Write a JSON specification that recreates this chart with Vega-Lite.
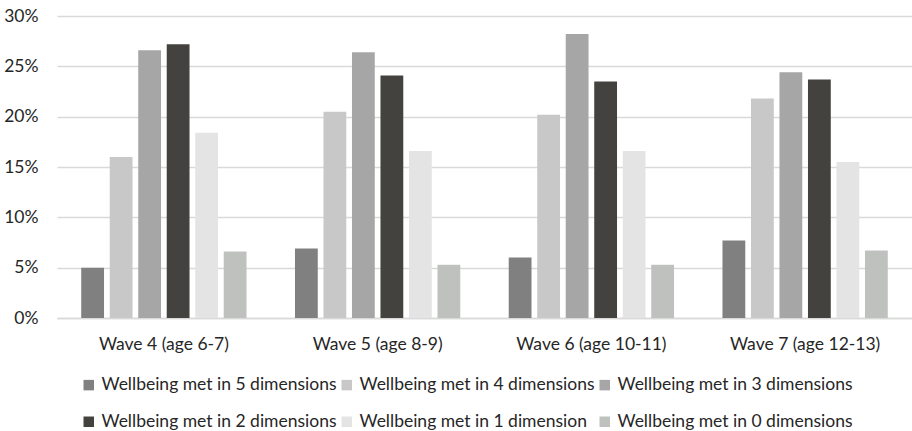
{
  "$schema": "https://vega.github.io/schema/vega-lite/v6.json",
  "autosize": {"type": "none"},
  "padding": {"left": 57, "top": 16, "right": 0, "bottom": 113},
  "width": 855,
  "height": 302,
  "background": "#ffffff",
  "config": {
    "font": "Lato",
    "view": {"stroke": null},
    "axis": {"labelFont": "Lato", "labelFontSize": 17.5, "labelColor": "#262626"},
    "legend": {"labelFont": "Lato", "labelFontSize": 17.5, "labelColor": "#262626"}
  },
  "data": {
    "values": [
      {"wave": "Wave 4 (age 6-7)", "group": "Wellbeing met in 5 dimensions", "pct": 5.0},
      {"wave": "Wave 4 (age 6-7)", "group": "Wellbeing met in 4 dimensions", "pct": 16.0},
      {"wave": "Wave 4 (age 6-7)", "group": "Wellbeing met in 3 dimensions", "pct": 26.6},
      {"wave": "Wave 4 (age 6-7)", "group": "Wellbeing met in 2 dimensions", "pct": 27.2},
      {"wave": "Wave 4 (age 6-7)", "group": "Wellbeing met in 1 dimension", "pct": 18.4},
      {"wave": "Wave 4 (age 6-7)", "group": "Wellbeing met in 0 dimensions", "pct": 6.6},
      {"wave": "Wave 5 (age 8-9)", "group": "Wellbeing met in 5 dimensions", "pct": 6.9},
      {"wave": "Wave 5 (age 8-9)", "group": "Wellbeing met in 4 dimensions", "pct": 20.5},
      {"wave": "Wave 5 (age 8-9)", "group": "Wellbeing met in 3 dimensions", "pct": 26.4},
      {"wave": "Wave 5 (age 8-9)", "group": "Wellbeing met in 2 dimensions", "pct": 24.1},
      {"wave": "Wave 5 (age 8-9)", "group": "Wellbeing met in 1 dimension", "pct": 16.6},
      {"wave": "Wave 5 (age 8-9)", "group": "Wellbeing met in 0 dimensions", "pct": 5.3},
      {"wave": "Wave 6 (age 10-11)", "group": "Wellbeing met in 5 dimensions", "pct": 6.0},
      {"wave": "Wave 6 (age 10-11)", "group": "Wellbeing met in 4 dimensions", "pct": 20.2},
      {"wave": "Wave 6 (age 10-11)", "group": "Wellbeing met in 3 dimensions", "pct": 28.2},
      {"wave": "Wave 6 (age 10-11)", "group": "Wellbeing met in 2 dimensions", "pct": 23.5},
      {"wave": "Wave 6 (age 10-11)", "group": "Wellbeing met in 1 dimension", "pct": 16.6},
      {"wave": "Wave 6 (age 10-11)", "group": "Wellbeing met in 0 dimensions", "pct": 5.3},
      {"wave": "Wave 7 (age 12-13)", "group": "Wellbeing met in 5 dimensions", "pct": 7.7},
      {"wave": "Wave 7 (age 12-13)", "group": "Wellbeing met in 4 dimensions", "pct": 21.8},
      {"wave": "Wave 7 (age 12-13)", "group": "Wellbeing met in 3 dimensions", "pct": 24.4},
      {"wave": "Wave 7 (age 12-13)", "group": "Wellbeing met in 2 dimensions", "pct": 23.7},
      {"wave": "Wave 7 (age 12-13)", "group": "Wellbeing met in 1 dimension", "pct": 15.5},
      {"wave": "Wave 7 (age 12-13)", "group": "Wellbeing met in 0 dimensions", "pct": 6.7}
    ]
  },
  "mark": {"type": "bar"},
  "encoding": {
    "x": {
      "field": "wave",
      "type": "nominal",
      "sort": null,
      "title": null,
      "scale": {"paddingInner": 0, "paddingOuter": 0},
      "axis": {
        "labelAngle": 0,
        "ticks": false,
        "domainColor": "#d9d9d9",
        "domainWidth": 1.5,
        "labelPadding": 17
      }
    },
    "xOffset": {
      "field": "group",
      "type": "nominal",
      "sort": null,
      "scale": {"paddingInner": 0.2, "paddingOuter": 0.85}
    },
    "y": {
      "field": "pct",
      "type": "quantitative",
      "title": null,
      "scale": {"domain": [0, 30], "nice": false},
      "axis": {
        "values": [0, 5, 10, 15, 20, 25, 30],
        "labelExpr": "datum.value + '%'",
        "ticks": false,
        "domain": false,
        "gridColor": "#d9d9d9",
        "gridWidth": 1.5,
        "labelPadding": 19
      }
    },
    "color": {
      "field": "group",
      "type": "nominal",
      "title": null,
      "scale": {
        "domain": [
          "Wellbeing met in 5 dimensions",
          "Wellbeing met in 4 dimensions",
          "Wellbeing met in 3 dimensions",
          "Wellbeing met in 2 dimensions",
          "Wellbeing met in 1 dimension",
          "Wellbeing met in 0 dimensions"
        ],
        "range": ["#808080", "#c8c8c8", "#a6a6a6", "#43423f", "#e4e4e4", "#bfc1bf"]
      },
      "legend": {
        "orient": "none",
        "legendX": 23,
        "legendY": 360,
        "direction": "horizontal",
        "columns": 3,
        "symbolType": "square",
        "symbolSize": 110,
        "symbolStrokeWidth": 0,
        "labelOffset": 4,
        "columnPadding": 1,
        "rowPadding": 18,
        "labelLimit": 400
      }
    }
  }
}
